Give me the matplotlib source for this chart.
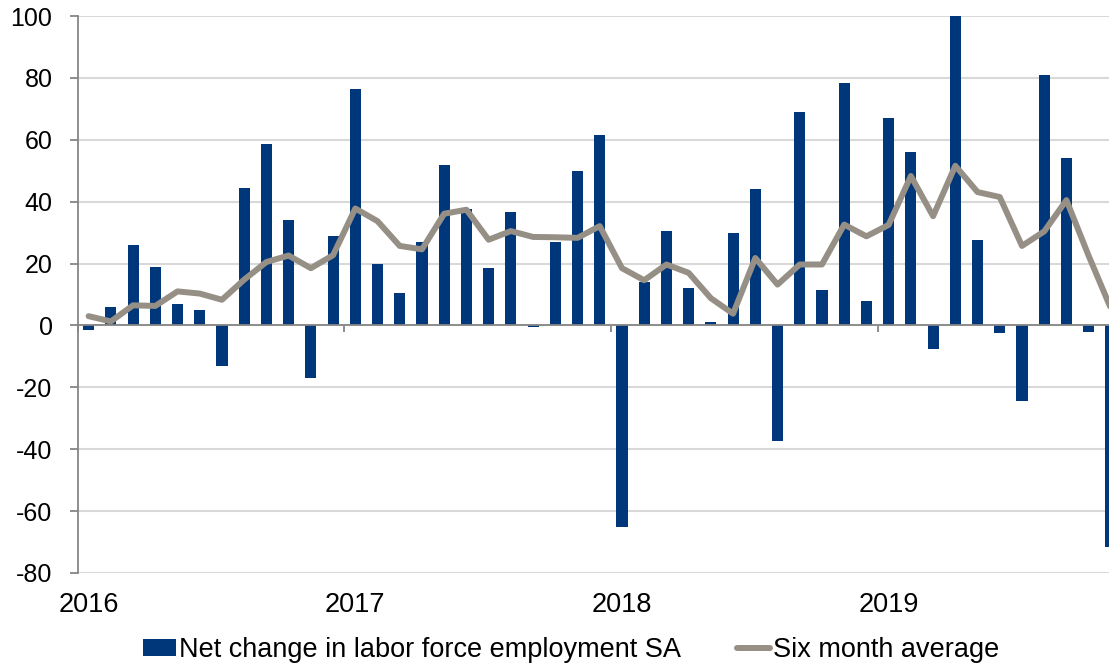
import matplotlib
matplotlib.use("Agg")
import matplotlib.pyplot as plt
import numpy as np

plt.rcParams['font.family'] = ['Liberation Sans', 'DejaVu Sans']
plt.rcParams['axes.unicode_minus'] = False

years = ["2016", "2017", "2018", "2019"]
net_change = [
    -1.5, 6, 26, 19, 7, 5, -13, 44.5, 58.5, 34, -17, 29,
    76.5, 20, 10.5, 27, 52, 37.5, 18.5, 36.5, -0.5, 27, 50, 61.5,
    -65, 14, 30.5, 12, 1, 30, 44, -37.5, 69, 11.5, 78.5, 8,
    67, 56, -7.5, 100, 27.5, -2.5, -24.5, 81, 54, -2, -71.5,
]
six_month_avg = [
    3, 1.3, 6.5, 6.3, 11, 10.3, 8.3, 14.8, 20.5, 22.6, 18.5, 22.7,
    37.8, 33.7, 25.7, 24.6, 36.1, 37.4, 27.7, 30.5, 28.6, 28.5, 28.3, 32.1,
    18.5, 14.6, 19.7, 17, 8.8, 3.8, 21.8, 13.2, 19.7, 19.7, 32.6, 28.8,
    32.5, 48.3, 35.3, 51.6, 43.1, 41.5, 25.7, 30.4, 40.5, 22.5, 5.5,
]
bar_label = "Net change in labor force employment SA"
line_label = "Six month average"

W, H = 1109, 664
fig = plt.figure(figsize=(W / 100, H / 100), dpi=100)
ax = fig.add_axes([77.5 / W, 91 / H, 1044.5 / W, 557 / H])

x = np.arange(len(net_change))
bars = ax.bar(x, net_change, width=0.5, color="#00367A", label=bar_label, zorder=2)
line, = ax.plot(x, six_month_avg, color="#968F85", lw=4.3, solid_joinstyle="round",
                solid_capstyle="round", label=line_label, zorder=3)

ax.set_xlim(-0.5, len(net_change) - 0.5)
ax.set_ylim(-80, 100)
ax.set_yticks(np.arange(-80, 101, 20))
ax.yaxis.grid(True, color="#D9D9D9", lw=1.5, zorder=0)
ax.set_axisbelow(True)

for s in ["top", "right"]:
    ax.spines[s].set_visible(False)
ax.spines["left"].set_color("#868686")
ax.spines["left"].set_linewidth(1.3)
ax.spines["bottom"].set_position(("data", 0))
ax.spines["bottom"].set_color("#868686")
ax.spines["bottom"].set_linewidth(1.3)
ax.spines["bottom"].set_zorder(4)

ax.tick_params(axis="y", length=6, width=1.3, color="#868686", labelsize=18, pad=12)
boundaries = np.arange(-0.5, len(net_change), 12)
ax.set_xticks(boundaries)
ax.set_xticklabels([])
ax.tick_params(axis="x", length=5, width=1.3, color="#868686", direction="out")

sec = ax.secondary_xaxis("bottom")
sec.set_xticks(np.arange(0, len(net_change), 12))
sec.set_xticklabels(years)
sec.tick_params(length=0, labelsize=19.5, pad=14)
sec.spines["bottom"].set_visible(False)

fig.legend([bars, line], [bar_label, line_label], loc="center",
           bbox_to_anchor=(571 / W, 1 - 650 / H), ncol=2, frameon=False,
           fontsize=19.5, handlelength=1.25, handleheight=0.55, handletextpad=0.1,
           columnspacing=2.05)

fig.savefig("out.png", dpi=100)
